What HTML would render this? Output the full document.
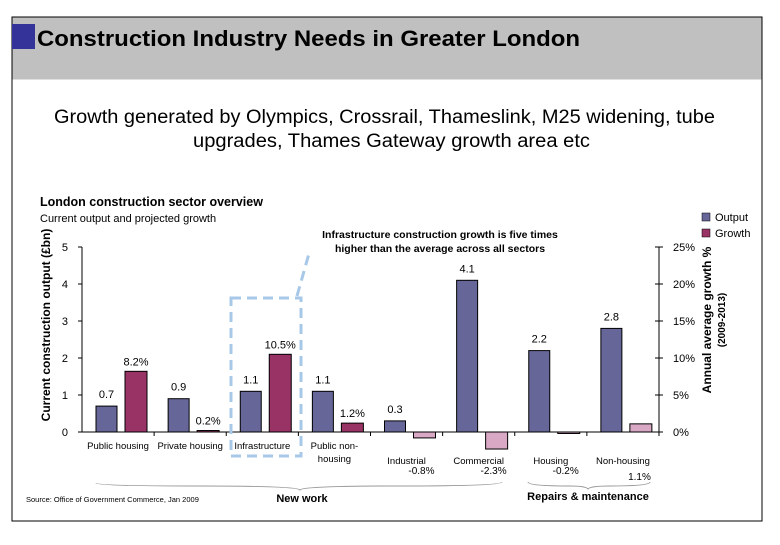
<!DOCTYPE html>
<html><head><meta charset="utf-8"><style>
body{margin:0;background:#fff;font-family:"Liberation Sans",sans-serif}
svg text{font-family:"Liberation Sans",sans-serif}
</style></head><body>
<svg width="780" height="540" viewBox="0 0 780 540">
<rect x="12" y="17" width="750" height="504" fill="#fff" stroke="#000" stroke-width="1"/>
<rect x="12.5" y="17.5" width="749" height="62" fill="#c0c0c0"/>
<rect x="12" y="24" width="23" height="25" fill="#333399"/>
<text x="37" y="46" font-size="22" font-weight="bold" textLength="543" lengthAdjust="spacingAndGlyphs">Construction Industry Needs in Greater London</text>
<text x="54" y="123" font-size="19" textLength="661" lengthAdjust="spacingAndGlyphs">Growth generated by Olympics, Crossrail, Thameslink, M25 widening, tube</text>
<text x="193" y="147" font-size="19" textLength="397" lengthAdjust="spacingAndGlyphs">upgrades, Thames Gateway growth area etc</text>
<text x="40" y="206" font-size="12.5" font-weight="bold">London construction sector overview</text>
<text x="40" y="222" font-size="11">Current output and projected growth</text>
<text transform="translate(50,325) rotate(-90)" font-size="12" font-weight="bold" text-anchor="middle">Current construction output (£bn)</text>
<text transform="translate(711,320) rotate(-90)" font-size="12" font-weight="bold" text-anchor="middle">Annual average growth %</text>
<text transform="translate(725,320) rotate(-90)" font-size="10" font-weight="bold" text-anchor="middle">(2009-2013)</text>
<text x="440" y="238" font-size="10.5" font-weight="bold" text-anchor="middle">Infrastructure construction growth is five times</text>
<text x="440" y="252" font-size="10.5" font-weight="bold" text-anchor="middle">higher than the average across all sectors</text>
<g>
<rect x="702" y="213" width="8" height="8" fill="#666699" stroke="#000" stroke-width="0.5"/>
<text x="715" y="221" font-size="11">Output</text>
<rect x="702" y="229" width="8" height="8" fill="#993366" stroke="#000" stroke-width="0.5"/>
<text x="715" y="237" font-size="11">Growth</text>
</g>
<g id="chart"></g>
<rect x="231" y="298" width="70" height="158" fill="none" stroke="#a8c8e8" stroke-width="3" stroke-dasharray="10,6"/>
<line x1="297" y1="296" x2="310" y2="250" stroke="#a8c8e8" stroke-width="3" stroke-dasharray="10,6"/>
<path d="M96,483 Q96,486 200,486 Q298,486 300,490 Q302,486 400,486 Q502,486 502,482" fill="none" stroke="#999" stroke-width="1"/>
<text x="302" y="502" font-size="11" font-weight="bold" text-anchor="middle">New work</text>
<path d="M528,482 Q528,486 570,486 Q586,486 588,489 Q590,486 610,486 Q650,486 650,482" fill="none" stroke="#999" stroke-width="1"/>
<text x="588" y="500" font-size="11" font-weight="bold" text-anchor="middle">Repairs &amp; maintenance</text>
<text x="26" y="502" font-size="7.5">Source: Office of Government Commerce, Jan 2009</text>
</svg>
<script>
const categories=[["Public housing"],["Private housing"],["Infrastructure"],["Public non-","housing"],["Industrial"],["Commercial"],["Housing"],["Non-housing"]];
const outputValues=[0.7,0.9,1.1,1.1,0.3,4.1,2.2,2.8];
const outputLabels=["0.7","0.9","1.1","1.1","0.3","4.1","2.2","2.8"];
const growthValues=[8.2,0.2,10.5,1.2,-0.8,-2.3,-0.2,1.1];
const growthLabels=["8.2%","0.2%","10.5%","1.2%","-0.8%","-2.3%","-0.2%","1.1%"];
const leftTicks=[0,1,2,3,4,5];
const rightTicks=[0,5,10,15,20,25];
const NS="http://www.w3.org/2000/svg";
const g=document.getElementById('chart');
const x0=82,x1=659,y0=432,yTop=247;
const yL=v=>y0-(v/5)*(y0-yTop);
const yR=v=>y0-(v/25)*(y0-yTop);
const cw=(x1-x0)/categories.length;
function mk(t,a,txt){const e=document.createElementNS(NS,t);for(const k in a)e.setAttribute(k,a[k]);if(txt!==undefined)e.textContent=txt;g.appendChild(e);return e;}
let e=mk('line',{x1:x0,y1:yTop,x2:x0,y2:y0,stroke:'#000'});


e=mk('line',{x1:x1,y1:yTop,x2:x1,y2:y0,stroke:'#000'});


e=mk('line',{x1:x0,y1:y0,x2:x1,y2:y0,stroke:'#000'});


leftTicks.forEach(v=>{
 let t=mk('line',{x1:x0-4,y1:yL(v),x2:x0,y2:yL(v),stroke:'#000'});
 
 
 let l=mk('text',{x:x0-14,y:yL(v)+4,'font-size':11,'text-anchor':'end'},String(v));
 
 
});
rightTicks.forEach(v=>{
 let t=mk('line',{x1:x1-4,y1:yR(v),x2:x1+4,y2:yR(v),stroke:'#000'});
 
 
 let l=mk('text',{x:x1+14,y:yR(v)+4,'font-size':11},v+'%');
 
 
});
categories.forEach((c,i)=>{
 const cx=x0+i*cw;
 let t=mk('line',{x1:cx+cw,y1:y0,x2:cx+cw,y2:y0+4,stroke:'#000'});
 
 
 const ov=outputValues[i];
 let b=mk('rect',{x:cx+14,y:yL(ov),width:21,height:y0-yL(ov),fill:'#666699',stroke:'#000','stroke-width':1});
 
 
 let bl=mk('text',{x:cx+24.5,y:yL(ov)-8,'font-size':11,'text-anchor':'middle'},outputLabels[i]);
 
 
 const gv=growthValues[i];
 const neg=gv<0||i>=4;
 const top=Math.min(yR(gv),y0),h=Math.abs(yR(gv)-y0);
 let gb=mk('rect',{x:cx+43,y:top,width:22,height:Math.max(h,1),fill:neg?'#d8a8c4':'#993366',stroke:'#000','stroke-width':1});
 
 
 let gl;
 if(i>=4) gl=mk('text',{x:cx+64,y:i===7?480:474,'font-size':10,'text-anchor':'end'},growthLabels[i]);
 else gl=mk('text',{x:cx+54,y:yR(gv)-6,'font-size':11,'text-anchor':'middle'},growthLabels[i]);
 
 
 c.forEach((line,j)=>{
  let cl=mk('text',{x:cx+cw/2,y:(i>=4?464:449)+j*13,'font-size':9.5,'text-anchor':'middle'},line);
  
  
 });
});
</script>
</body></html>
